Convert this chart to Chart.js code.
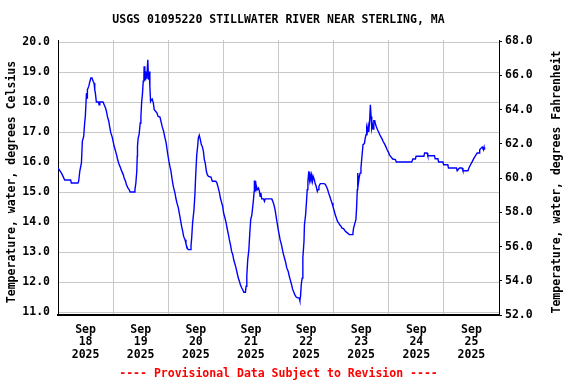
<!DOCTYPE html>
<html lang="en">
<head>
    <meta charset="UTF-8" />
    <title>USGS 01095220 Stillwater River</title>
    <style>
        html, body { margin: 0; padding: 0; background: #fff; }
        #chart { display: block; }
    </style>
</head>
<body>
    <canvas id="chart" width="576" height="384"></canvas>

    <script src="https://cdn.jsdelivr.net/npm/chart.js@4.4.1/dist/chart.umd.min.js"></script>
    <script>
        // hours since Sep 18 2025 00:00
        const hours = [
            0.0, 0.7, 1.5, 2.2, 2.9, 5.5, 5.8, 8.7, 9.0, 9.5, 10.2, 10.6, 11.2, 11.6, 11.9,
            12.4, 12.7, 12.8, 13.4, 13.8, 14.3, 14.8, 15.3, 15.7, 16.0, 16.3, 16.7, 17.6, 17.9,
            18.2, 19.6, 20.1, 20.7, 21.1, 21.5, 22.1, 22.5, 23.0, 23.6,
            24.0, 24.4, 25.0, 25.5, 25.9, 26.5, 27.1, 27.6, 28.4, 28.8, 29.4, 29.8, 30.5, 31.1,
            31.4, 33.2, 33.5, 33.9, 34.3, 34.5, 34.6, 34.9, 35.3, 35.8, 36.1, 36.4, 36.8, 37.1,
            37.4, 37.5, 37.8, 38.0, 38.1, 38.4, 38.7, 39.1, 39.4, 39.7, 40.0, 40.3, 40.7, 41.0,
            41.5, 41.9, 42.5, 43.1, 43.6, 44.4, 44.8, 45.4, 46.0, 46.5, 47.1, 47.7,
            48.3, 48.7, 49.2, 49.7, 50.2, 50.9, 51.3, 51.8, 52.4, 52.8, 53.2, 53.8, 54.3, 54.7,
            55.3, 55.7, 56.3, 56.7, 57.6, 57.9, 58.2, 58.6, 59.2, 59.6, 59.9, 60.4, 60.8, 61.1,
            61.5, 62.0, 62.4, 62.8, 63.3, 63.7, 64.1, 64.6, 65.0, 65.5, 66.6, 67.2, 68.7, 69.2,
            69.8, 70.3, 70.7, 71.3, 71.7,
            72.1, 72.7, 73.2, 73.6, 74.2, 74.6, 75.1, 75.6, 76.1, 76.5, 77.1, 77.5, 78.0, 78.5,
            79.0, 79.4, 80.0, 80.4, 80.9, 81.6, 81.9, 82.2, 82.6, 83.1, 83.5, 83.9, 84.4, 84.8,
            85.1, 85.4, 85.5, 85.8, 86.1, 86.4, 86.8, 87.3, 87.7, 88.0, 88.3, 88.7, 89.5, 89.9,
            90.2, 93.1, 93.5, 94.0, 94.5, 95.3,
            95.9, 96.3, 96.7, 97.3, 97.7, 98.2, 98.8, 99.2, 99.6, 100.2, 100.7, 101.1, 101.7,
            102.1, 102.5, 103.1, 103.7, 104.3, 105.0, 105.3, 105.6, 105.9, 106.3, 106.6, 107.1,
            107.3, 107.8, 108.2, 108.5, 108.8, 109.2, 109.5, 109.8, 110.1, 110.4, 110.8, 111.1,
            111.6, 111.9, 112.4, 112.9, 113.2, 113.6, 114.2, 115.9, 116.4, 116.8, 117.4, 117.8,
            118.3, 118.8, 119.3, 119.7,
            120.3, 120.7, 121.2, 121.7, 122.2, 122.6, 123.2, 123.6, 124.4, 125.1, 126.1, 126.8,
            128.0, 128.4, 128.7, 129.3, 129.7, 130.0, 130.3, 130.5, 130.8, 131.1, 131.5, 131.9,
            132.4, 132.8, 133.4, 133.7, 134.1, 134.4, 134.7, 135.0, 135.3, 135.7, 136.0, 136.3,
            136.6, 136.9, 137.2, 137.5, 137.9, 138.3, 138.8, 139.2, 139.6, 140.1, 140.7, 141.1,
            141.5, 142.1, 142.7, 143.3, 143.9,
            144.3, 145.0, 145.7, 146.9, 147.3, 154.0, 154.5, 155.6, 155.9, 159.3, 159.6, 160.7,
            161.0, 163.9, 164.2, 165.4, 165.7, 167.6, 167.9,
            169.7, 170.0, 173.5, 173.8, 174.8, 175.9, 176.3, 178.5, 178.9, 179.6, 180.4, 181.1,
            181.8, 182.5, 183.3, 183.6, 184.3, 184.7, 185.2, 185.5, 185.7
        ];

        // water temperature, degrees Celsius
        const tempC = [
            15.80, 15.72, 15.63, 15.52, 15.40, 15.40, 15.30, 15.30, 15.36, 15.70, 15.97, 16.69, 16.86, 17.30, 17.52,
            18.30, 18.13, 18.41, 18.52, 18.66, 18.80, 18.80, 18.69, 18.63, 18.41, 18.28, 18.00, 18.00, 17.91,
            18.00, 18.00, 17.91, 17.80, 17.69, 17.52, 17.36, 17.17, 16.97, 16.83,
            16.69, 16.54, 16.38, 16.24, 16.10, 15.94, 15.83, 15.72, 15.58, 15.47, 15.36, 15.24, 15.13, 15.06,
            15.00, 15.00, 15.08, 15.30, 15.69, 16.19, 16.52, 16.80, 16.91, 17.30, 17.52, 17.97, 18.30, 18.69,
            18.80, 19.19, 18.97, 18.74, 19.02, 18.80, 18.86, 19.41, 18.74, 19.02, 18.52, 18.02, 18.08, 18.10,
            17.97, 17.74, 17.69, 17.63, 17.52, 17.50, 17.36, 17.17, 17.02, 16.83, 16.63, 16.30,
            16.02, 15.86, 15.69, 15.41, 15.19, 14.97, 14.80, 14.63, 14.47, 14.30, 14.13, 13.86, 13.69, 13.52,
            13.41, 13.28, 13.13, 13.08, 13.08, 13.19, 13.47, 13.97, 14.41, 14.91, 15.47, 16.24, 16.52, 16.80,
            16.89, 16.74, 16.58, 16.52, 16.36, 16.08, 15.97, 15.69, 15.58, 15.52, 15.50, 15.36, 15.36, 15.30,
            15.13, 14.97, 14.80, 14.63, 14.52,
            14.30, 14.13, 13.97, 13.80, 13.58, 13.41, 13.24, 13.02, 12.91, 12.74, 12.58, 12.47, 12.30, 12.13,
            12.02, 11.91, 11.80, 11.74, 11.66, 11.66, 11.86, 12.21, 12.74, 13.08, 13.63, 14.08, 14.24, 14.52,
            14.74, 15.02, 15.36, 15.36, 15.02, 15.19, 15.08, 15.13, 15.02, 14.86, 14.97, 14.77, 14.77, 14.69,
            14.77, 14.77, 14.69, 14.58, 14.41, 14.02,
            13.74, 13.58, 13.41, 13.24, 13.08, 12.91, 12.74, 12.63, 12.47, 12.36, 12.19, 12.08, 11.91,
            11.77, 11.69, 11.58, 11.50, 11.47, 11.47, 11.38, 11.52, 11.91, 12.13, 12.80, 13.36,
            13.91, 14.24, 14.69, 15.08, 15.36, 15.69, 15.41, 15.58, 15.47, 15.58, 15.36, 15.52,
            15.41, 15.30, 15.19, 15.02, 15.08, 15.19, 15.28, 15.28, 15.25, 15.19, 15.08, 14.97,
            14.86, 14.74, 14.63, 14.52,
            14.36, 14.24, 14.13, 14.02, 13.97, 13.91, 13.86, 13.80, 13.77, 13.69, 13.63, 13.58,
            13.58, 13.63, 13.80, 13.97, 14.08, 14.47, 15.08, 15.63, 15.30, 15.47, 15.63, 15.80,
            16.24, 16.58, 16.61, 16.77, 16.91, 17.13, 17.02, 17.19, 17.00, 17.41, 17.91, 17.52,
            17.13, 17.24, 17.10, 17.38, 17.38, 17.24, 17.13, 17.06, 17.00, 16.91, 16.82, 16.77,
            16.69, 16.61, 16.52, 16.41, 16.32,
            16.24, 16.17, 16.10, 16.08, 16.00, 16.00, 16.10, 16.10, 16.19, 16.19, 16.30, 16.30,
            16.21, 16.21, 16.11, 16.11, 16.00, 16.00, 15.91,
            15.91, 15.80, 15.80, 15.71, 15.80, 15.80, 15.71, 15.71, 15.80, 15.91, 16.02, 16.13,
            16.21, 16.30, 16.30, 16.41, 16.47, 16.50, 16.41, 16.50, 16.41
        ];

        const celsiusTicks = [11, 12, 13, 14, 15, 16, 17, 18, 19, 20];
        const fahrenheitTicks = [52, 54, 56, 58, 60, 62, 64, 66, 68];
        const dayTicks = [0, 12, 24, 36, 48, 60, 72, 84, 96, 108, 120, 132, 144, 156, 168, 180, 192];
        const dayLabels = ['18', '19', '20', '21', '22', '23', '24', '25'];
        const monthLabel = 'Sep';
        const yearLabel = '2025';

        const FONT = "'DejaVu Sans Mono', monospace";
        const gridColor = '#c8c8c8';
        const labelFont = { family: FONT, size: 11.5, weight: 'bold', lineHeight: 1.2 };

        // axis titles read bottom-to-top on both sides
        const axisTitles = {
            id: 'axisTitles',
            afterDraw(chart) {
                const ctx = chart.ctx;
                ctx.save();
                ctx.font = 'bold 11.5px ' + FONT;
                ctx.fillStyle = '#000';
                ctx.textAlign = 'center';
                ctx.textBaseline = 'middle';
                [[12, 'Temperature, water, degrees Celsius'],
                 [557, 'Temperature, water, degrees Fahrenheit']].forEach(([x, t]) => {
                    ctx.save();
                    ctx.translate(x, 182);
                    ctx.rotate(-Math.PI / 2);
                    ctx.fillText(t, 0, 0);
                    ctx.restore();
                });
                ctx.restore();
            }
        };

        new Chart(document.getElementById('chart'), {
            type: 'line',
            data: {
                datasets: [{
                    data: hours.map((h, i) => ({ x: h, y: tempC[i] })),
                    borderColor: '#0000ff',
                    borderWidth: 1.4,
                    pointRadius: 0,
                    fill: false,
                    tension: 0,
                    xAxisID: 'x',
                    yAxisID: 'y'
                }]
            },
            options: {
                responsive: false,
                animation: false,
                devicePixelRatio: 1,
                layout: { padding: 0 },
                plugins: {
                    legend: { display: false },
                    tooltip: { enabled: false },
                    title: {
                        display: true,
                        text: 'USGS 01095220 STILLWATER RIVER NEAR STERLING, MA',
                        fullSize: false,
                        color: '#000',
                        font: labelFont,
                        padding: { top: 13, bottom: 13.2 }
                    },
                    subtitle: {
                        display: true,
                        position: 'bottom',
                        text: '---- Provisional Data Subject to Revision ----',
                        fullSize: false,
                        color: '#ff0000',
                        font: labelFont,
                        padding: { top: 0, bottom: 2.6 }
                    }
                },
                scales: {
                    x: {
                        type: 'linear',
                        min: 0,
                        max: 192,
                        afterBuildTicks: s => { s.ticks = dayTicks.map(v => ({ value: v })); },
                        afterFit: s => { s.height = 52.6; },
                        grid: {
                            color: c => (c.tick && c.tick.value % 24 === 0) ? gridColor : 'rgba(0,0,0,0)',
                            drawTicks: false
                        },
                        border: { color: '#000', width: 2 },
                        ticks: {
                            autoSkip: false,
                            maxRotation: 0,
                            padding: 8.2,
                            color: '#000',
                            font: { family: FONT, size: 11.5, weight: 'bold', lineHeight: 1.1 },
                            callback: v => (v % 24 === 12) ? [monthLabel, dayLabels[Math.floor(v / 24)], yearLabel] : ''
                        }
                    },
                    y: {
                        position: 'left',
                        min: 10.9,
                        max: 20.067,
                        afterBuildTicks: s => { s.ticks = celsiusTicks.map(v => ({ value: v })); },
                        afterFit: s => { s.width = 58; },
                        grid: { color: gridColor, drawTicks: false },
                        border: { color: '#000', width: 1 },
                        ticks: {
                            autoSkip: false,
                            padding: 8,
                            color: '#000',
                            font: labelFont,
                            callback: v => v.toFixed(1)
                        }
                    },
                    yF: {
                        position: 'right',
                        min: 52,
                        max: 68.076,
                        afterBuildTicks: s => { s.ticks = fahrenheitTicks.map(v => ({ value: v })); },
                        afterFit: s => { s.width = 77; },
                        grid: { drawOnChartArea: false, drawTicks: true, tickLength: 3, color: '#000' },
                        border: { color: '#000', width: 1 },
                        ticks: {
                            autoSkip: false,
                            padding: 3,
                            color: '#000',
                            font: labelFont,
                            callback: v => v.toFixed(1)
                        }
                    }
                }
            },
            plugins: [axisTitles]
        });
    </script>
</body>
</html>
